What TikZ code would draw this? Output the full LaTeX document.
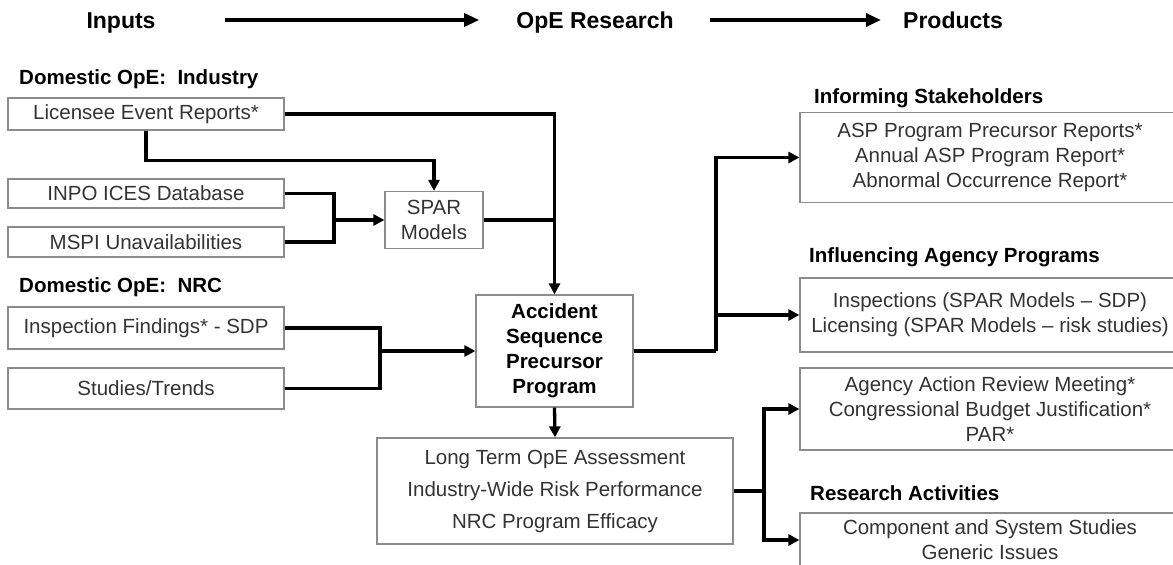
\documentclass[tikz,border=0pt]{standalone}
\usepackage{fontspec}
\setmainfont{Liberation Sans}
\usetikzlibrary{arrows.meta}
\tikzstyle{title} = [font=\fontsize{23}{27}\selectfont\bfseries, inner sep=0pt, text height=16.5pt, text depth=0pt]
\tikzstyle{heading} = [font=\fontsize{20.5}{25}\selectfont\bfseries, anchor=west, inner sep=0pt, text height=14.7pt, text depth=0pt]
\tikzstyle{source} = [rectangle, minimum width=276pt, draw=black!45, line width=1.2pt, text=black!80, font=\fontsize{20.5}{25}\selectfont, align=center, inner sep=0pt]
\tikzstyle{program} = [source, font=\fontsize{20.5}{25}\selectfont\bfseries, text=black]
\tikzstyle{product} = [source, minimum width=380pt]
\tikzstyle{link} = [line width=3.3pt]
\tikzstyle{arrow} = [line width=3.3pt,-{Triangle[length=11pt,width=11pt]}]

\begin{document}
\begin{tikzpicture}[x=1pt,y=-1pt]
\useasboundingbox (0,0) rectangle (1173,565);
\clip (0,0) rectangle (1173,565);
% header row
\node (inputs)   [title] at (121,20) {Inputs};
\node (research) [title] at (595,20) {OpE Research};
\node (products) [title] at (953,20) {Products};
\draw [arrow, -{Triangle[length=15pt,width=13pt]}] ([xshift=69pt]inputs.east) -- ([xshift=-37pt]research.west);
\draw [arrow, -{Triangle[length=15pt,width=13pt]}] ([xshift=36pt]research.east) -- ([xshift=-22pt]products.west);

% inputs
\node (indhead) [heading] at (19,77) {Domestic OpE:~ Industry};
\node (ler)     [source, minimum height=32pt] at (146,114)   {Licensee Event Reports*};
\node (inpo)    [source, minimum height=29pt] at (146,193.5) {INPO ICES Database};
\node (mspi)    [source, minimum height=30pt] at (146,242)   {MSPI Unavailabilities};
\node (spar)    [source, minimum width=98pt, minimum height=57pt] at (434,220) {SPAR\\Models};
\node (nrchead) [heading] at (19,285) {Domestic OpE:~ NRC};
\node (insp)    [source, minimum height=42pt] at (146,328)   {Inspection Findings* - SDP};
\node (studies) [source, minimum height=41pt] at (146,388.5) {Studies/Trends};

% research
\node (asp)      [program, minimum width=157pt, minimum height=112pt] at (554.5,351) {Accident\\Sequence\\Precursor\\Program};
\node (longterm) [source, minimum width=356pt, minimum height=106pt] at (555,491) {Long Term OpE Assessment\\[7pt]Industry-Wide Risk Performance\\[7pt]NRC Program Efficacy};

% products
\node (stakehead)  [heading] at (814,96) {Informing Stakeholders};
\node (stake)      [product, minimum height=90pt] at (990,157.5) {ASP Program Precursor Reports*\\Annual ASP Program Report*\\Abnormal Occurrence Report*};
\node (agencyhead) [heading] at (809,255) {Influencing Agency Programs};
\node (agency)     [product, minimum height=74pt] at (990,315) {Inspections (SPAR Models – SDP)\\Licensing (SPAR Models – risk studies)};
\node (review)     [product, minimum height=82pt] at (990,409) {Agency Action Review Meeting*\\Congressional Budget Justification*\\PAR*};
\node (reshead)    [heading] at (810,493) {Research Activities};
\node (comp)       [product, minimum height=54pt] at (990,540) {Component and System Studies\\Generic Issues};

\draw [arrow] (ler.east) -| (asp.north);
\draw [arrow] (ler.south) -- ++(0,30) -| (spar.north);
\coordinate (jspar) at (334,220);
\draw [link] (inpo.east) -| (jspar) |- (mspi.east);
\draw [arrow] (jspar) -- (spar.west);
\draw [link] (spar.east) -- (spar.east -| asp.north);
\coordinate (jasp) at (380,351);
\draw [link] (insp.east) -| (jasp) |- (studies.east);
\draw [arrow] (jasp) -- (asp.west);
\draw [arrow] (asp.south) -- (longterm.north);
\coordinate (jout) at (716,351);
\draw [link] (asp.east) -- (jout);
\draw [arrow] (jout) |- (stake.west);
\draw [arrow] (jout |- agency.west) -- (agency.west);
\coordinate (jlong) at (764,491);
\draw [link] (longterm.east) -- (jlong);
\draw [arrow] (jlong) |- (review.west);
\draw [arrow] (jlong) |- (comp.west);
\end{tikzpicture}
\end{document}
